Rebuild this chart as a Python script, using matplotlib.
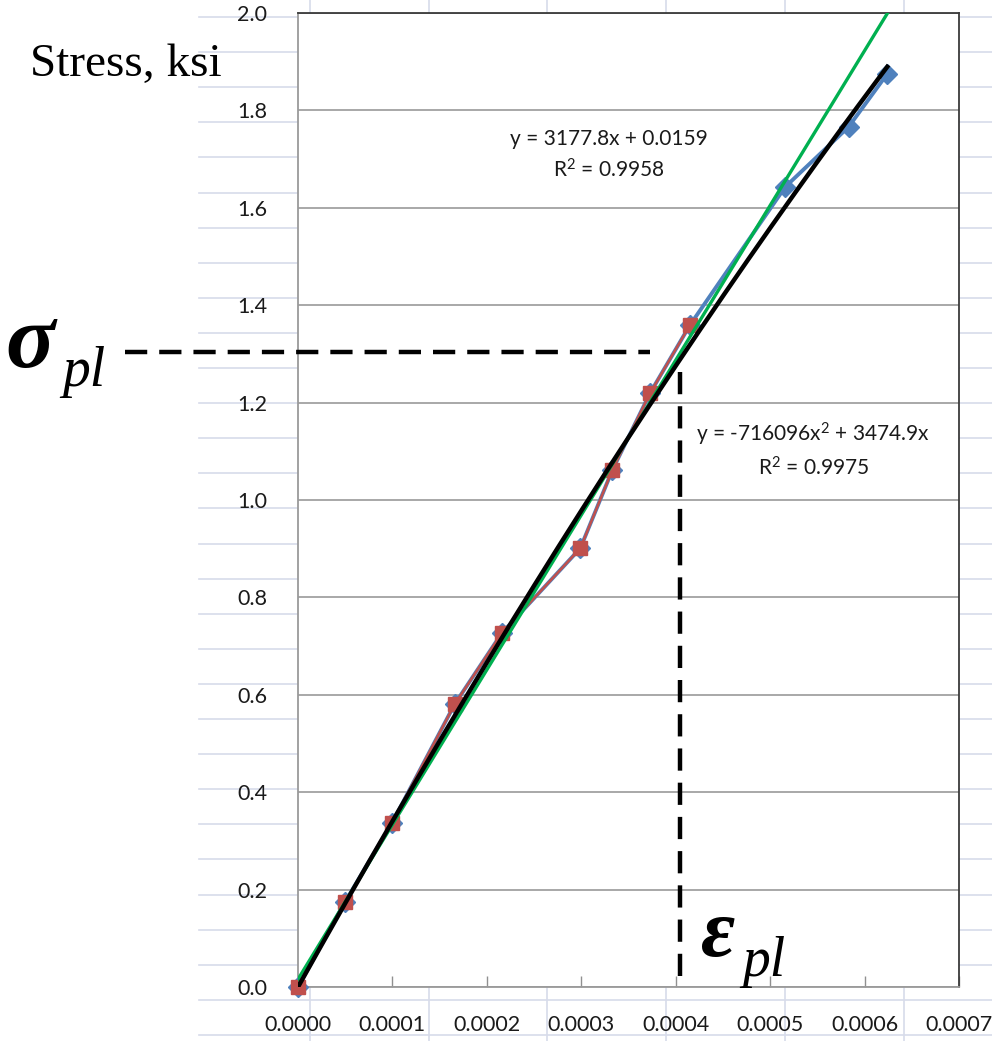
import matplotlib
matplotlib.use("Agg")
import matplotlib.pyplot as plt
from matplotlib.lines import Line2D
import numpy as np

plt.rcParams["mathtext.fontset"] = "custom"
plt.rcParams["mathtext.rm"] = "Lato"
plt.rcParams["mathtext.it"] = "Lato:italic"
plt.rcParams["mathtext.bf"] = "Lato:bold"

# ---- data ----
strain_all = [0.0, 0.0000498, 0.0000996, 0.000166, 0.000216, 0.000299, 0.000333,
              0.000373, 0.000415, 0.000516, 0.000583, 0.000624]
stress_all = [0.0, 0.1745, 0.337, 0.581, 0.727, 0.901, 1.062,
              1.220, 1.359, 1.643, 1.766, 1.875]
strain_lin = [0.0, 0.0000498, 0.0000996, 0.000166, 0.000216, 0.000299, 0.000333,
              0.000373, 0.000415]
stress_lin = [0.0, 0.1745, 0.337, 0.581, 0.727, 0.901, 1.062, 1.220, 1.359]

lin_slope, lin_int = 3177.8, 0.0159
poly_a, poly_b = -716096.0, 3474.9
eps_pl = 0.000405
sig_pl = 1.304

xticks = [0.0, 0.0001, 0.0002, 0.0003, 0.0004, 0.0005, 0.0006, 0.0007]
yticks = [0.0, 0.2, 0.4, 0.6, 0.8, 1.0, 1.2, 1.4, 1.6, 1.8, 2.0]

W, H = 992, 1041
fig = plt.figure(figsize=(W / 100, H / 100), dpi=100)
fig.patch.set_facecolor("white")

def fx(px):
    return px / W

def fy(py):
    return 1 - py / H

# spreadsheet cell grid in background
gcol = "#d7dbea"
y = 17.0
while y < H:
    fig.add_artist(Line2D([fx(199), fx(W)], [fy(y), fy(y)], color=gcol, lw=1.2, zorder=-5))
    y += 35.1
x = 310.0
while x < W:
    fig.add_artist(Line2D([fx(x), fx(x)], [0, 1], color=gcol, lw=1.2, zorder=-5))
    x += 118.7

ax = fig.add_axes([fx(298), fy(987), (959 - 298) / W, (987 - 13) / H])
ax.set_facecolor("white")
ax.set_zorder(1)
ax.set_xlim(0, 0.0007)
ax.set_ylim(0, 2.0)

tick_font = dict(family="Lato", size=15.5, color="#1a1a1a")
ax.set_xticks(xticks)
ax.set_xticklabels([f"{v:.4f}" for v in xticks], **tick_font)
ax.set_yticks(yticks)
ax.set_yticklabels([f"{v:.1f}" for v in yticks], **tick_font)
ax.tick_params(axis="x", direction="in", length=8, width=1, color="#909090", pad=20)
ax.tick_params(axis="y", length=0, pad=22)
ax.yaxis.grid(True, color="#9a9a9a", lw=1.2)
ax.set_axisbelow(True)
for s in ["left", "bottom"]:
    ax.spines[s].set_color("#9a9a9a")
    ax.spines[s].set_linewidth(1.3)
for s in ["top", "right"]:
    ax.spines[s].set_color("#3a3a3a")
    ax.spines[s].set_linewidth(1.3)

# series
ax.plot(strain_all, stress_all, color="#4f81bd", lw=2.8, marker="D", ms=10,
        mfc="#4f81bd", mec="#4f81bd", zorder=3, clip_on=False)
ax.plot(strain_lin, stress_lin, color="#c0504d", lw=1.8, marker="s", ms=9.5,
        mfc="#c0504d", mec="#c0504d", zorder=4, clip_on=False)

# trendlines
xl = np.linspace(0, 0.00065, 200)
ax.plot(xl, lin_slope * xl + lin_int, color="#00b050", lw=2.4, zorder=5)
xp = np.linspace(0, max(strain_all), 200)
ax.plot(xp, poly_a * xp ** 2 + poly_b * xp, color="black", lw=3.2, zorder=6)

# equation labels
eq_font = dict(family="Lato", size=15, color="#1a1a1a", ha="center", va="center",
               linespacing=1.45)
ax.text(0.0003294, 1.708, "y = 3177.8x + 0.0159\nR$^2$ = 0.9958", **eq_font, zorder=7)
ax.text(0.0005456, 1.103, "y = -716096x$^2$ + 3474.9x\nR$^2$ = 0.9975", **eq_font, zorder=7)

# proportional-limit dashed lines
ax.plot([-0.000183, 0.000373], [sig_pl, sig_pl], color="black", lw=3.2,
        ls=(0, (5.0, 2.7)), clip_on=False, zorder=8)
ax.plot([eps_pl, eps_pl], [1.263, 0.0], color="black", lw=3.2,
        ls=(0, (5.0, 2.7)), clip_on=False, zorder=8)

# labels
serif = "Liberation Serif"
fig.text(fx(30), fy(76), "Stress, ksi", family=serif, size=34, va="baseline", ha="left")
fig.text(fx(5), fy(367), "\u03c3", family=serif, style="italic", weight="bold", size=66,
         va="baseline", ha="left")
fig.text(fx(62), fy(386), "pl", family=serif, style="italic", size=40,
         va="baseline", ha="left")
fig.text(fx(700), fy(956), "\u03b5", family=serif, style="italic", weight="bold", size=60,
         va="baseline", ha="left")
fig.text(fx(742), fy(976), "pl", family=serif, style="italic", size=40,
         va="baseline", ha="left", zorder=10)

fig.savefig("out.png", dpi=100)
